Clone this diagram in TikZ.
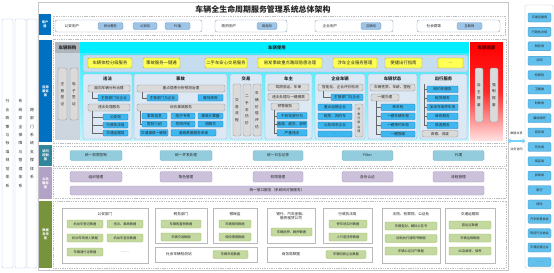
\documentclass[tikz,border=0pt]{standalone}
\usepackage{fontspec}
\setmainfont{Noto Sans CJK SC}
\usetikzlibrary{calc,arrows.meta}
\definecolor{cband}{HTML}{0070C0}
\definecolor{tband}{HTML}{31859C}
\definecolor{pband}{HTML}{B3A2C7}
\definecolor{gband}{HTML}{77933C}
\definecolor{cyanh}{HTML}{00EEFF}
\definecolor{cyanb}{HTML}{C4F3FA}
\definecolor{panelf}{HTML}{DCE9F5}
\definecolor{paneld}{HTML}{8EAADB}
\definecolor{yfr}{HTML}{C6DDF0}
\definecolor{yellf}{HTML}{FFFF55}
\definecolor{yelld}{HTML}{B8A000}
\definecolor{pillf}{HTML}{DADADA}
\definecolor{pilld}{HTML}{8C8C8C}
\definecolor{bluef}{HTML}{3DB7F0}
\definecolor{blued}{HTML}{2E75B6}
\definecolor{rbf}{HTML}{62C0EC}
\definecolor{rbd}{HTML}{3B8FC9}
\definecolor{tealf}{HTML}{93CDDD}
\definecolor{teald}{HTML}{74B5C6}
\definecolor{purf}{HTML}{CCC1DA}
\definecolor{purd}{HTML}{A897C2}
\definecolor{grnf}{HTML}{C4D9A0}
\definecolor{grnd}{HTML}{9BBB59}
\definecolor{newf}{HTML}{CDD5DE}
\definecolor{upf}{HTML}{9DC3E6}
\definecolor{upd}{HTML}{6FA0D0}
\definecolor{ubd}{HTML}{8FA4C0}
\definecolor{lbd}{HTML}{A9C4E0}
\newcommand\mybox[7]{\node[#1,minimum width={0.05cm*((#5)-(#3))},minimum height={0.05cm*((#6)-(#4))}] (#2) at ({((#3)+(#5))/2},{((#4)+(#6))/2}) {#7};}
\begin{document}
\begin{tikzpicture}[x=0.05cm,y=-0.05cm,
  base/.style={inner sep=0pt,outer sep=0pt,align=center,font=\fontsize{5.2}{6.2}\selectfont,text=black!85},
  txt/.style={base},
  hd/.style={base,font=\fontsize{6.2}{7}\selectfont\bfseries},
  gp/.style={base,draw=pilld,fill=pillf,rounded corners=2pt,line width=0.4pt},
  gpv/.style={gp,font=\fontsize{5.2}{9.5}\selectfont},
  gpvs/.style={gp,font=\fontsize{4.3}{6.3}\selectfont},
  bb/.style={base,draw=blued,fill=bluef,rounded corners=1pt,line width=0.4pt},
  yb/.style={base,draw=yelld,fill=yellf,rounded corners=1.5pt,line width=0.4pt,font=\fontsize{6.2}{7}\selectfont},
  pn/.style={base,draw=paneld,fill=panelf,rounded corners=2pt,line width=0.5pt},
  tb/.style={base,draw=teald,fill=tealf,rounded corners=2pt,line width=0.5pt},
  pb/.style={base,draw=purd,fill=purf,rounded corners=2pt,line width=0.5pt},
  gb/.style={base,draw=grnd,fill=grnf,rounded corners=1.5pt,line width=0.4pt,font=\fontsize{4.6}{5.5}\selectfont},
  grp/.style={base,draw=gray!55,fill=white,line width=0.6pt},
  rb/.style={base,draw=rbd,fill=rbf,rounded corners=1.5pt,line width=0.4pt,font=\fontsize{4.4}{5}\selectfont},
  ub/.style={base,draw=ubd,fill=white,rounded corners=3pt,line width=0.6pt},
  up/.style={base,draw=upd,fill=upf,rounded corners=2pt,line width=0.4pt,font=\fontsize{4.6}{5}\selectfont},
  band/.style={base,text=white,font=\fontsize{4.5}{5.5}\selectfont\bfseries},
  lf/.style={draw=gray!50,dash pattern=on 1.5pt off 1pt,line width=0.5pt},
  tree/.style={draw=black!60,line width=0.35pt},
  lbox/.style={base,draw=lbd,fill=white,rounded corners=2pt,line width=0.6pt,font=\fontsize{5.5}{12}\selectfont}
]
\useasboundingbox (0,0) rectangle (554,273);
\fill[white] (0,0) rectangle (554,273);
% left tall boxes
\mybox{lbox}{L1}{2}{19}{13}{268}{行\\业\\政\\策\\与\\标\\准\\规\\范\\体\\系}
\mybox{lbox}{L2}{15}{19}{26}{268}{系\\统\\安\\全\\保\\障\\与\\管\\理\\体\\系}
\mybox{lbox}{L3}{27}{19}{37}{268}{跨\\部\\门\\系\\统\\支\\撑\\体\\系}
% outer frame
\draw[gray!45,line width=0.5pt] (38,2) rectangle (508,270);
\node[base,font=\fontsize{11.3}{13}\selectfont\bfseries] (title) at (263,9.5) {车辆全生命周期服务管理系统总体架构};
% user layer
\mybox{band,fill=cband}{ul}{39}{14}{51}{35}{用户\\层}
\draw[lf] (53,16) rectangle (505,35);
\mybox{ub}{u1}{55}{20}{202}{32}{}
\node[txt] (u1t) at (72,26) {公安用户};
\mybox{up}{u1a}{98}{22.5}{123}{29.5}{移动警务}
\mybox{up}{u1b}{133}{22.5}{157}{29.5}{公安网}
\mybox{up}{u1c}{165}{22.5}{190}{29.5}{PC端}
\mybox{ub}{u2}{215}{20}{287}{32}{}
\node[txt] (u2t) at (229,26) {政府用户};
\mybox{up}{u2a}{257}{22.5}{277}{29.5}{政务网}
\mybox{ub}{u3}{315}{20}{393}{32}{}
\node[txt] (u3t) at (330,26) {企业用户};
\mybox{up}{u3a}{361}{22.5}{381}{29.5}{互联网}
\mybox{ub}{u4}{417}{20}{500}{32}{}
\node[txt] (u4t) at (434,26) {社会群体};
\mybox{up}{u4a}{457}{22.5}{482}{29.5}{互联网}
% application layer
\mybox{band,fill=cband}{al}{39}{40}{52}{142}{应用\\服务\\层}
\draw[lf] (53,39) rectangle (506,143);
\fill[newf] (55,42) rectangle (80,140);
\fill[newf!85!black] (55,42) rectangle (80,53);
\node[hd,font=\fontsize{6.3}{7}\selectfont\bfseries] (nh) at (67.5,47.5) {车辆新购};
\mybox{gpv}{n1}{58}{68}{67}{120}{注\\册\\登\\记}
\mybox{gpv}{n2}{70}{68}{78}{120}{电\\子\\签\\证}
\shade[top color=cyanh!70!cyanb,bottom color=cyanb] (80,53) rectangle (469,140);
\fill[cyanh] (80,42) rectangle (469,53);
\node[hd,font=\fontsize{6.3}{7}\selectfont\bfseries] (uh) at (277,47.5) {车辆使用};
\shade[top color=red,bottom color=red!12,middle color=red!85] (470,42) rectangle (503,140);
\node[hd,font=\fontsize{6.3}{7}\selectfont\bfseries,text=red!35!black] (rh) at (486.5,48) {车辆报废};
\mybox{gpv}{r1}{475}{68}{483}{122}{自\\主\\报\\废}
\mybox{gpv}{r2}{490}{68}{498}{122}{强\\制\\报\\废}
% yellow row
\mybox{base,draw=paneld,fill=yfr,rounded corners=2pt,line width=0.5pt}{yf}{83}{55}{468}{72}{}
\mybox{yb}{y1}{88}{58}{132}{68}{车辆体检分级服务}
\mybox{yb}{y2}{143}{58}{180}{68}{事故服务一键通}
\mybox{yb}{y3}{205}{58}{247}{68}{二手车安心交易服务}
\mybox{yb}{y4}{258}{58}{322}{68}{易发事故重点路段隐患治理}
\mybox{yb}{y5}{333}{58}{377}{68}{涉车企业服务管理}
\mybox{yb}{y6}{385}{58}{422}{68}{便捷出行指南}
\mybox{yb}{y7}{438}{58}{463}{68}{...}
% panels
\mybox{pn}{P1}{83}{74}{132}{139}{}
\mybox{pn}{P2}{134}{74}{227}{139}{}
\mybox{pn}{P3}{230}{74}{262}{139}{}
\mybox{pn}{P4}{265}{74}{312}{139}{}
\mybox{pn}{P5}{315}{74}{365}{139}{}
\mybox{pn}{P6}{368}{74}{417}{139}{}
\mybox{pn}{P7}{420}{74}{467}{139}{}
\node[hd] (P1h) at (107.5,79) {违法};
\node[hd] (P2h) at (180.5,79) {事故};
\node[hd] (P3h) at (246,79) {交易};
\node[hd] (P4h) at (288.5,79) {车主};
\node[hd] (P5h) at (340,79) {企业车辆};
\node[hd] (P6h) at (392.5,79) {车辆状态};
\node[hd] (P7h) at (443.5,79) {出行服务};
% 违法
\mybox{gp}{w1}{88}{85}{130}{92}{面向车辆分析治理}
\mybox{bb}{w2}{98}{94.5}{130}{101}{主管部门与企业}
\mybox{gp}{w3}{88}{104}{130}{111}{违法处理服务}
\mybox{bb}{w4}{103}{114}{128}{120}{公安局}
\mybox{bb}{w5}{103}{122}{128}{128}{行政执法局}
\mybox{bb}{w6}{103}{130}{128}{136}{交通运输局}
\draw[tree] ($(w1.south west)+(4,0)$) |- (w2.west);
\draw[tree] ($(w3.south west)+(4,0)$) |- (w4.west);
\draw[tree] ($(w3.south west)+(4,0)$) |- (w5.west);
\draw[tree] ($(w3.south west)+(4,0)$) |- (w6.west);
% 事故
\mybox{gp}{s1}{137}{85}{225}{92}{重点隐患分析预测治理}
\mybox{bb}{s2}{147}{94.5}{178}{101}{主管部门与企业}
\mybox{bb}{s3}{198}{94.5}{223}{101}{属地政府}
\mybox{gp}{s4}{137}{104}{225}{111}{综合事故服务}
\mybox{bb}{s5}{142}{113}{167}{119}{事故信息}
\mybox{bb}{s6}{171}{113}{195}{119}{医疗专家}
\mybox{bb}{s7}{198}{113}{223}{119}{事故计算器}
\mybox{bb}{s8}{142}{121}{167}{127}{医院介绍}
\mybox{bb}{s9}{171}{121}{195}{127}{伤残评定}
\mybox{bb}{s10}{198}{121}{223}{127}{调解员}
\mybox{bb}{s11}{140}{129.5}{168}{136}{交通事故一键报}
\mybox{bb}{s12}{171}{129.5}{216}{136}{道路救援服务申请}
\draw[tree] ($(s1.south west)+(5,0)$) |- (s2.west);
\draw[tree] ($(s4.south west)+(3,0)$) |- (s8.west);
% 交易
\mybox{gpv}{t1}{233}{84}{241}{136}{交\\易\\流\\程}
\mybox{gpv}{t2}{243}{84}{251}{136}{二\\手\\车\\估\\价}
\mybox{gpv}{t3}{253}{84}{261}{136}{车\\辆\\价\\值\\评\\估}
% 车主
\mybox{gp}{c1}{268}{84}{309}{91}{驾照验证、年审}
\mybox{gp}{c2}{268}{93.5}{309}{100.5}{违法处理与一键缴款}
\mybox{gp}{c3}{271}{103}{299}{110}{预警服务}
\mybox{bb}{c4}{277}{112.5}{307}{119}{不良驾驶行为}
\mybox{bb}{c5}{277}{121}{307}{127.5}{超速、超员、疲劳}
\mybox{bb}{c6}{277}{129.5}{307}{136}{严重违法}
\draw[tree] ($(c3.south west)+(3,0)$) |- (c4.west);
\draw[tree] ($(c3.south west)+(3,0)$) |- (c5.west);
\draw[tree] ($(c3.south west)+(3,0)$) |- (c6.west);
% 企业车辆
\mybox{gp}{e1}{318}{84}{363}{91}{智能化、企业评价检测}
\mybox{bb}{e2}{331}{94}{363}{100.5}{主管部门与企业}
\mybox{bb}{e3}{318}{104}{352}{110.5}{重点运输企业}
\mybox{bb}{e4}{318}{113}{352}{119.5}{租赁、网约车}
\mybox{bb}{e5}{318}{122}{352}{128.5}{公务用车企业}
\mybox{bb}{e6}{318}{131}{352}{137}{...}
\mybox{gpvs}{e7}{355}{104}{363}{137}{分\\类\\分\\级\\治\\理}
\draw[tree] ($(e1.south west)+(5,0)$) |- (e2.west);
% 车辆状态
\mybox{gp}{v1}{370}{84}{415}{91}{车辆性质、车龄、里程}
\mybox{gp}{v2}{371}{94}{399}{101}{一键办理}
\mybox{bb}{v3}{381}{104}{415}{110.5}{新车检}
\mybox{bb}{v4}{381}{113}{415}{119.5}{一键车辆年报}
\mybox{bb}{v5}{381}{122}{415}{128.5}{一键预约年检}
\mybox{bb}{v6}{381}{131}{415}{137}{一键报废}
\draw[tree] ($(v2.south west)+(5,0)$) |- (v3.west);
\draw[tree] ($(v2.south west)+(5,0)$) |- (v4.west);
\draw[tree] ($(v2.south west)+(5,0)$) |- (v5.west);
\draw[tree] ($(v2.south west)+(5,0)$) |- (v6.west);
% 出行服务
\mybox{bb}{o1}{427}{86}{458}{92.5}{网约车服务}
\mybox{bb}{o2}{427}{95}{458}{101.5}{租赁服务}
\mybox{bb}{o3}{427}{104}{458}{110.5}{加油充电停车场}
\mybox{bb}{o4}{427}{113}{458}{119.5}{维修服务}
\mybox{bb}{o5}{427}{122}{458}{128.5}{旅游服务}
\mybox{gp}{o6}{422}{130.5}{458}{137}{高德、百度}
\coordinate (o0) at (424,84);
\draw[tree] (o0) |- (o1.west);
\draw[tree] (o0) |- (o2.west);
\draw[tree] (o0) |- (o3.west);
\draw[tree] (o0) |- (o4.west);
\draw[tree] (o0) |- (o5.west);
% access layer
\mybox{band,fill=tband}{acl}{39}{145}{52}{166}{访问\\控制\\层}
\draw[lf] (53,146) rectangle (506,166);
\mybox{tb}{a1}{70}{150.5}{122}{160.5}{统一权限控制}
\mybox{tb}{a2}{160}{150.5}{212}{160.5}{统一并发处理}
\mybox{tb}{a3}{253}{150.5}{303}{160.5}{统一日志记录}
\mybox{tb}{a4}{342}{150.5}{393}{160.5}{Filter}
\mybox{tb}{a5}{433}{150.5}{484}{160.5}{代理}
% public layer
\mybox{band,fill=pband}{pul}{39}{167}{52}{199}{公共\\服务\\层}
\draw[lf] (53,168) rectangle (506,198);
\mybox{pb}{b1}{70}{171.5}{122}{182}{组织管理}
\mybox{pb}{b2}{160}{171.5}{212}{182}{角色管理}
\mybox{pb}{b3}{253}{171.5}{303}{182}{权限管理}
\mybox{pb}{b4}{342}{171.5}{393}{182}{身份认证}
\mybox{pb}{b5}{433}{171.5}{484}{182}{流程管理}
\mybox{pb}{b6}{70}{186}{484}{195}{统一接口服务（系统间对接服务）}
% data layer
\mybox{band,fill=gband}{dl}{39}{201}{52}{268}{数据\\支持\\层}
\draw[lf] (53,201) rectangle (506,268);
\mybox{grp}{g1}{62}{208}{148}{263}{}
\node[txt] (g1t) at (105,214) {公安部门};
\mybox{gb}{d1}{67}{220}{103}{228}{机动车登记数据}
\mybox{gb}{d2}{107}{220}{143}{228}{违法、事故数据}
\mybox{gb}{d3}{67}{234}{103}{242}{机动车驾驶人数据}
\mybox{gb}{d4}{107}{234}{143}{242}{机动车查验数据}
\mybox{gb}{d5}{67}{248}{103}{256}{车辆通行证数据}
\node[txt] (d6) at (125,252) {……};
\mybox{grp}{g2}{155}{208}{207}{243}{}
\node[txt] (g2t) at (181,214) {税务部门};
\mybox{gb}{d7}{161}{220}{201}{228}{车辆购置税数据}
\mybox{gb}{d8}{161}{233}{201}{241}{车辆交易数据}
\mybox{grp}{g3}{213}{208}{257}{243}{}
\node[txt] (g3t) at (235,214) {银保监};
\mybox{gb}{d9}{219}{220}{251}{228}{车辆保险数据}
\mybox{gb}{d10}{219}{233}{251}{241}{保险理赔数据}
\mybox{grp}{g4}{155}{247}{257}{262}{}
\node[txt] (g4t) at (179,254.5) {社会车辆检测站};
\mybox{gb}{d11}{213}{250.5}{248}{258.5}{车辆年检数据}
\mybox{grp}{g5}{267}{208}{315}{243}{}
\node[txt] (g5t) at (291,216) {银行、汽车金融、\\融资租赁公司};
\mybox{gb}{d12}{271}{228}{312}{236}{车辆抵押、解押数据}
\mybox{grp}{g6}{323}{208}{372}{243}{}
\node[txt] (g6t) at (347.5,214) {行政执法局};
\mybox{gb}{d13}{329}{220}{367}{228}{停车场实时数据}
\mybox{gb}{d14}{329}{233}{367}{241}{人行道违停数据}
\mybox{grp}{g7}{267}{247}{372}{262}{}
\node[txt] (g7t) at (291,254.5) {商务局数据};
\mybox{gb}{d15}{326}{250.5}{366}{258.5}{车辆回收企业数据}
\mybox{grp}{g8}{382}{208}{440}{263}{}
\node[txt] (g8t) at (411,214) {法院、检察院、公证处};
\mybox{gb}{d16}{385}{222}{437}{230}{车辆查封、解封公告书}
\mybox{gb}{d17}{385}{234.5}{437}{242.5}{协助执行通知书数据}
\mybox{gb}{d18}{385}{247}{437}{255}{车辆公证过户数据}
\mybox{grp}{g9}{445}{208}{495}{263}{}
\node[txt] (g9t) at (470,214) {交通运输局};
\mybox{gb}{d19}{449}{221}{491}{229}{营运证数据}
\mybox{gb}{d20}{449}{234}{491}{242}{车辆运政数据}
\mybox{gb}{d21}{449}{247}{491}{255}{4S店维修、保养}
% right panel
\mybox{base,draw=gray!45,fill=white,rounded corners=2pt,line width=0.6pt}{RP}{525}{5}{553}{268}{}
\foreach \t [count=\i from 0] in {交通运输局,行政执法局,税务局,法院,检察院,卫健委,财政局,属地政府,商务局,司法局,保监局,民政局,银行,保险,汽车销售协会,驾培行业协会,交通运输企业}{
  \mybox{rb}{rp\i}{528}{13+14.38*\i}{551}{22+14.38*\i}{\t}
}
\mybox{rb}{rp17}{528}{257.5}{551}{266.5}{……}
% arrow
\coordinate (arrL) at (508,141);
\coordinate (arrR) at (525,141);
\draw[draw=cyan!55,line width=3pt,{Triangle[length=3.5pt,width=7pt]}-{Triangle[length=3.5pt,width=7pt]}] (arrL) -- (arrR);
\node[base,font=\fontsize{4.3}{5}\selectfont] (sh1) at (516.5,133) {数据共享};
\node[base,font=\fontsize{4.3}{5}\selectfont] (sh2) at (516.5,149.5) {业务协同};
\end{tikzpicture}
\end{document}
